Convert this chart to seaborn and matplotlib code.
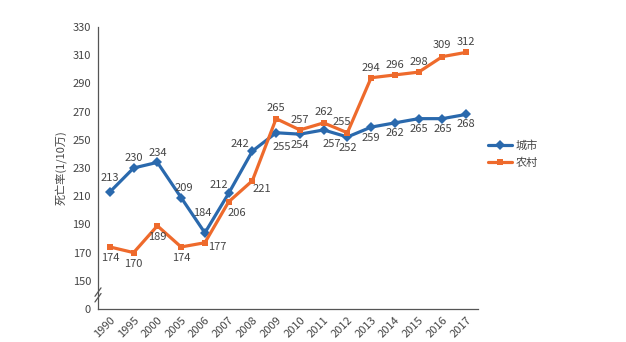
import matplotlib
matplotlib.use("Agg")
import matplotlib.pyplot as plt
import seaborn as sns
import pandas as pd
import numpy as np
from matplotlib.lines import Line2D

years = ["1990", "1995", "2000", "2005", "2006", "2007", "2008", "2009",
         "2010", "2011", "2012", "2013", "2014", "2015", "2016", "2017"]
city = [213, 230, 234, 209, 184, 212, 242, 255, 254, 257, 252, 259, 262, 265, 265, 268]
rural = [174, 170, 189, 174, 177, 206, 221, 265, 257, 262, 255, 294, 296, 298, 309, 312]
series_names = ["城市", "农村"]
yticks = [150, 170, 190, 210, 230, 250, 270, 290, 310, 330]

sns.set_theme(style="white")
plt.rcParams['font.family'] = ['Noto Sans CJK SC', 'DejaVu Sans']

df = pd.DataFrame({
    "year": years * 2,
    "x": list(range(len(years))) * 2,
    "value": city + rural,
    "series": [series_names[0]] * len(years) + [series_names[1]] * len(years),
})

blue = "#2a69ad"
orange = "#ee6a2c"
gray = "#555555"
txt = "#444444"

fig = plt.figure(figsize=(6.26, 3.42), dpi=100)
ax = fig.add_axes([98 / 626, 1 - 309 / 342, 380 / 626, (309 - 27) / 342])

sns.lineplot(data=df, x="x", y="value", hue="series", style="series",
             palette=[blue, orange], markers=["D", "s"], dashes=False,
             linewidth=2.3, markersize=5, markeredgewidth=0, ax=ax, legend=False)

ax.set_xlim(-0.5, len(years) - 0.5)
ax.set_ylim(130, 330)
ax.set_yticks([130] + yticks)
ax.set_yticklabels(["0"] + [str(t) for t in yticks])
ax.set_xticks(np.arange(len(years)))
ax.set_xticklabels(years, rotation=45, ha="right", rotation_mode="anchor")
ax.set_xticks(np.arange(len(years) + 1) - 0.5, minor=True)
ax.tick_params(axis="x", which="major", length=0, labelsize=8, colors=txt, pad=4)
ax.tick_params(axis="x", which="minor", length=3, direction="in", color=gray, width=0.8)
ax.tick_params(axis="y", length=4, direction="inout", color=gray, width=0.8,
               labelsize=8, colors=txt, pad=3)
ax.set_xlabel("")
ax.set_ylabel("死亡率(1/10万)", fontsize=8, color=txt, labelpad=4)

for s in ["top", "right"]:
    ax.spines[s].set_visible(False)
for s in ["left", "bottom"]:
    ax.spines[s].set_color(gray)
    ax.spines[s].set_linewidth(0.9)

# axis break mark
d = dict(transform=ax.transAxes, color=gray, lw=0.9, clip_on=False)
yb = (140 - 130) / 200
ax.plot([-0.008, 0.008], [yb - 0.025, yb + 0.005], **d)
ax.plot([-0.008, 0.008], [yb - 0.005, yb + 0.025], **d)

# data labels: (dx, dy) offsets in points
city_off = [(0, 10), (0, 7), (0, 7), (2, 7), (-2, 14), (-7, 6), (-9, 5), (4, -10),
            (0, -8), (6, -10), (0, -8), (0, -7.5), (0, -7.5), (0, -7.5), (0, -7.5), (0, -7)]
rural_off = [(0, -8), (0, -8), (0, -8), (0, -8), (9, -3), (6, -8), (7, -6), (0, 7.5),
             (0, 7.5), (0, 8), (-4, 7.5), (0, 7), (0, 7), (0, 7), (0, 8), (0, 7.5)]
for i in range(len(years)):
    ax.annotate(str(city[i]), (i, city[i]), xytext=city_off[i], textcoords="offset points",
                ha="center", va="center", fontsize=8, color=txt)
    ax.annotate(str(rural[i]), (i, rural[i]), xytext=rural_off[i], textcoords="offset points",
                ha="center", va="center", fontsize=8, color=txt)

handles = [Line2D([], [], color=blue, lw=2.3, marker="D", markersize=5, markeredgewidth=0),
           Line2D([], [], color=orange, lw=2.3, marker="s", markersize=5, markeredgewidth=0)]
fig.legend(handles, series_names, loc="upper left", bbox_to_anchor=(478 / 626, 1 - 130 / 342),
           frameon=False, fontsize=8, handlelength=2.2, handletextpad=0.3,
           labelspacing=0.6, labelcolor=txt)

fig.savefig("out.png", dpi=100)
